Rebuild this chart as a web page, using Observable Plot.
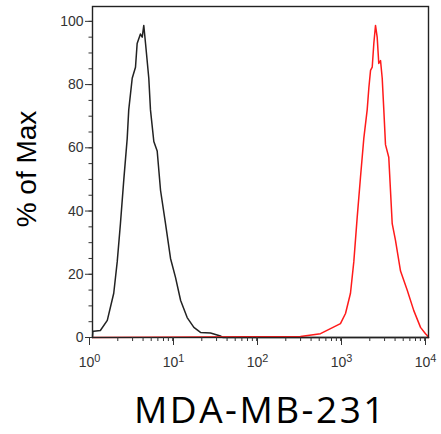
<!DOCTYPE html>
<html>
<head>
<meta charset="utf-8">
<script src="https://cdn.jsdelivr.net/npm/d3@7"></script>
<script src="https://cdn.jsdelivr.net/npm/@observablehq/plot@0.6"></script>
<style>
  html, body { margin: 0; padding: 0; background: #fff; }
</style>
</head>
<body>
<div id="chart"></div>
<script>
// Control (black) histogram: intensity vs % of Max
const blackX = [1, 1.01, 1.035, 1.24, 1.50, 1.79, 1.97, 2.15, 2.36, 2.59, 2.70, 2.97, 3.25, 3.40, 3.72, 3.91, 4.08, 4.28, 4.68, 4.90, 5.37, 5.89, 6.46, 7.40, 8.49, 9.73, 11.2, 13.4, 16.1, 19.3, 25.4, 33.4, 35.5, 10000];
const blackY = [0, 2, 2, 2.2, 5.4, 14, 24, 36, 50, 63, 72, 82, 85.5, 93, 96, 95, 98.7, 93, 82, 72, 62, 59, 46.5, 36, 25, 19, 11.7, 6.3, 3.2, 1.6, 1.4, 0.5, 0, 0];

// Stained (red) histogram
const redX = [1, 299, 518, 681, 895, 1028, 1178, 1291, 1416, 1549, 1698, 1862, 1950, 2042, 2138, 2234, 2339, 2449, 2559, 2685, 2812, 2938, 3076, 3365, 3698, 4046, 4645, 5572, 6683, 8035, 9204, 9660, 10000];
const redY = [0, 0.3, 1.2, 2.8, 4.4, 7.6, 14, 24, 38, 50.6, 63, 72, 79, 84.5, 85.5, 93, 98.7, 95, 86.7, 87.6, 82, 72, 61, 57, 36, 30.7, 21, 15, 8.5, 3.2, 1.2, 0.6, 0];

const xTicks = [1, 10, 100, 1000, 10000];
const xTickExp = ["0", "1", "2", "3", "4"];
const yTicks = [0, 20, 40, 60, 80, 100];
const yLabel = "% of Max";
const title = "MDA-MB-231";

const black = blackX.map((x, i) => ({x, y: blackY[i]}));
const red = redX.map((x, i) => ({x, y: redY[i]}));

const xMinor = [];
for (let e = 0; e < 4; e++) for (let k = 2; k <= 9; k++) xMinor.push(k * 10 ** e);
const yMinor = d3.range(0, 101, 5);

const chart = Plot.plot({
  width: 441,
  height: 434,
  marginLeft: 92,
  marginRight: 13,
  marginTop: 6,
  marginBottom: 97,
  style: {fontFamily: "Liberation Sans, Arial, sans-serif", background: "#fff"},
  x: {type: "log", domain: [1, 10000], axis: null},
  y: {domain: [0, 104.7], axis: null},
  marks: [
    Plot.line(black, {x: "x", y: "y", stroke: "#222", strokeWidth: 1.5}),
    Plot.line(red, {x: "x", y: "y", stroke: "#ff1a1a", strokeWidth: 1.5}),
    Plot.frame({stroke: "#222", strokeWidth: 1.4}),
    Plot.axisY(yMinor, {tickSize: 3.5, tickFormat: () => "", label: null, stroke: "#333"}),
    Plot.axisY(yTicks, {tickSize: 7, tickPadding: 2, label: null, fontSize: 14, fill: "#333", stroke: "#333"}),
    Plot.axisX(xMinor, {tickSize: 4, tickFormat: () => "", label: null, stroke: "#333"}),
    Plot.axisX(xTicks, {tickSize: 8, tickPadding: 12, label: null, fontSize: 14, fill: "#333", stroke: "#333",
      dx: -3, tickFormat: d => "10^" + xTickExp[xTicks.indexOf(d)]}),
    Plot.text([yLabel], {frameAnchor: "left", rotate: -90, textAnchor: "middle", lineAnchor: "middle",
      dx: -65, dy: -3, fontSize: 28, fill: "#000", fontFamily: "Liberation Sans, Arial, sans-serif"}),
    Plot.text([title], {frameAnchor: "bottom", dy: 74, lineAnchor: "middle", fontSize: 37, fill: "#000",
      fontFamily: "Open Sans, sans-serif", ariaLabel: "chart-title"})
  ]
});

// Render "10^n" tick labels with a real superscript
d3.select(chart).selectAll("text").each(function () {
  const t = this.textContent;
  const m = /^10\^(\d)$/.exec(t);
  if (m) {
    const sel = d3.select(this);
    sel.text("10");
    sel.append("tspan").attr("dy", "-0.5em").attr("font-size", "0.78em").text(m[1]);
  }
  if (t === title) d3.select(this).attr("letter-spacing", "2.5px");
});

document.getElementById("chart").appendChild(chart);
</script>
</body>
</html>
